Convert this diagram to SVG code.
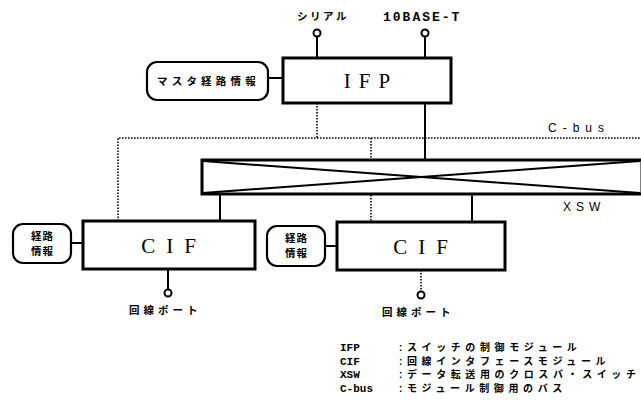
<svg xmlns="http://www.w3.org/2000/svg" width="641" height="403" viewBox="0 0 641 403">
<style>
.box{fill:#fff;stroke:#000;stroke-width:3}
.rbox{fill:#fff;stroke:#000;stroke-width:2.2}
.ln{stroke:#000;stroke-width:2;fill:none}
.dot{stroke:#000;stroke-width:1.6;stroke-dasharray:1.6 1.4;fill:none}
.port{fill:#fff;stroke:#000;stroke-width:2}
.big{font-family:"Liberation Serif",serif;font-size:21px;text-anchor:middle}
.jp{font-family:"Noto Sans CJK JP",sans-serif;font-weight:bold;font-size:10.5px}
.lat{font-family:"Liberation Mono",monospace;font-weight:bold;font-size:13px;letter-spacing:2px}
.sans{font-family:"Liberation Sans",sans-serif;font-size:12px}
.leg{font-family:"Liberation Mono",monospace;font-weight:bold;font-size:11px}
.legj{font-family:"Liberation Sans","Noto Sans CJK JP",sans-serif;font-weight:bold;font-size:10px;letter-spacing:4.6px}
</style>
<rect width="641" height="403" fill="#fff"/>
<g id="connectors">
  <line class="ln" x1="317" y1="37" x2="317" y2="58"/>
  <line class="ln" x1="425" y1="37" x2="425" y2="58"/>
  <line class="ln" x1="268" y1="78" x2="283" y2="78"/>
  <polyline class="dot" points="118,221 118,138 641,138"/>
  <line class="dot" x1="317" y1="103" x2="317" y2="138"/>
  <line class="dot" x1="371" y1="138" x2="371" y2="222"/>
  <line class="ln" x1="425" y1="103" x2="425" y2="160"/>
  <line class="ln" x1="220" y1="194" x2="220" y2="221"/>
  <line class="ln" x1="472" y1="194" x2="472" y2="222"/>
  <line class="ln" x1="71" y1="243" x2="83" y2="243"/>
  <line class="ln" x1="325" y1="246" x2="337" y2="246"/>
  <line class="ln" x1="168" y1="269" x2="168" y2="290"/>
  <line class="dot" x1="421" y1="270" x2="421" y2="292"/>
  <circle class="port" cx="317" cy="33" r="3.5"/>
  <circle class="port" cx="425" cy="33" r="3.5"/>
  <circle class="port" cx="168" cy="293" r="3.5"/>
  <circle class="port" cx="421" cy="295" r="3.5"/>
</g>
<g id="xsw">
  <rect class="box" x="202" y="160" width="440" height="34"/>
  <line class="ln" x1="203" y1="161" x2="640" y2="193"/>
  <line class="ln" x1="203" y1="193" x2="640" y2="161"/>
  <text class="sans" x="563" y="211" letter-spacing="5">XSW</text>
</g>
<g id="cbus-label">
  <text class="sans" x="548" y="132" letter-spacing="6">C-bus</text>
</g>
<g id="ifp">
  <rect class="box" x="283" y="58" width="168" height="45"/>
  <text class="big" x="371" y="88" font-size="22" letter-spacing="8">IFP</text>
</g>
<g id="serial"><text class="jp" x="297" y="20" letter-spacing="2.5">シリアル</text></g>
<g id="base10"><text class="lat" x="383" y="21">10BASE-T</text></g>
<g id="master">
  <rect class="rbox" x="147" y="62" width="121" height="38" rx="10"/>
  <text class="jp" x="157" y="85" letter-spacing="4.2">マスタ経路情報</text>
</g>
<g id="cif1">
  <rect class="box" x="83" y="221" width="172" height="48"/>
  <text class="big" x="174" y="253" font-size="22" letter-spacing="11">CIF</text>
</g>
<g id="route1">
  <rect class="rbox" x="13" y="224" width="58" height="39" rx="10"/>
  <text class="jp" x="42.5" y="240" text-anchor="middle" letter-spacing="1">経路</text>
  <text class="jp" x="42.5" y="255" text-anchor="middle" letter-spacing="1">情報</text>
</g>
<g id="cif2">
  <rect class="box" x="337" y="222" width="168" height="48"/>
  <text class="big" x="426" y="254" font-size="22" letter-spacing="11">CIF</text>
</g>
<g id="route2">
  <rect class="rbox" x="267" y="226" width="58" height="40" rx="10"/>
  <text class="jp" x="296.5" y="242" text-anchor="middle" letter-spacing="1">経路</text>
  <text class="jp" x="296.5" y="257" text-anchor="middle" letter-spacing="1">情報</text>
</g>
<g id="port1"><text class="jp" x="129" y="314" letter-spacing="4">回線ポート</text></g>
<g id="port2"><text class="jp" x="382" y="316" letter-spacing="4">回線ポート</text></g>
<g id="legend">
  <text class="leg" x="340" y="351">IFP</text>
  <text class="legj" x="399" y="351">:スイッチの制御モジュール</text>
  <text class="leg" x="340" y="364.5">CIF</text>
  <text class="legj" x="399" y="364.5">:回線インタフェースモジュール</text>
  <text class="leg" x="340" y="378">XSW</text>
  <text class="legj" x="399" y="378">:データ転送用のクロスバ・スイッチ</text>
  <text class="leg" x="340" y="391.5">C-bus</text>
  <text class="legj" x="399" y="391.5">:モジュール制御用のバス</text>
</g>
</svg>
